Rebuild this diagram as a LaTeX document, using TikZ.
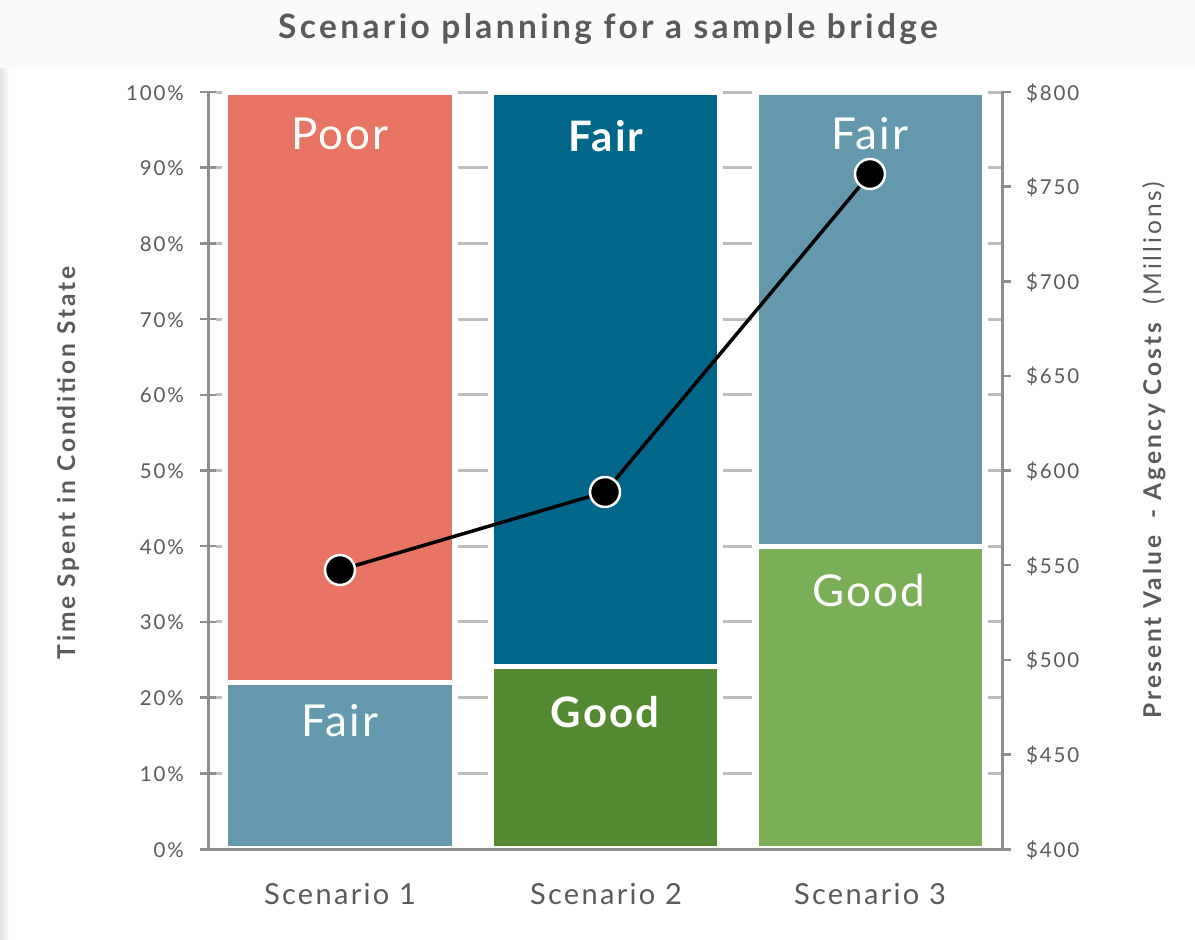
\documentclass[tikz,border=0pt]{standalone}
\usepackage{fontspec}
\setmainfont{Lato}
\definecolor{salmon}{HTML}{E87564}
\definecolor{lteal}{HTML}{6499AD}
\definecolor{dteal}{HTML}{00678A}
\definecolor{dgreen}{HTML}{548A31}
\definecolor{lgreen}{HTML}{7BAF57}
\definecolor{axisgray}{HTML}{8E8E8E}
\definecolor{stubgray}{HTML}{BDBDBD}
\definecolor{txtgray}{HTML}{5A5A5A}
\definecolor{bandgray}{HTML}{FAFAFA}
\tikzset{
  axisline/.style={draw=axisgray, line width=3pt},
  tickline/.style={draw=axisgray, line width=2.5pt},
  stub/.style={draw=stubgray, line width=3pt},
  seg/.style={draw=white, line width=1.5pt},
  ticklab/.style={text=txtgray, font=\fontsize{20.5}{22}\selectfont\addfontfeatures{LetterSpace=9}, inner sep=0pt},
  catlab/.style={text=txtgray, font=\fontsize{29}{31}\selectfont\addfontfeatures{LetterSpace=8}, inner sep=0pt, anchor=base},
  barlab/.style={text=white, font=\fontsize{44}{46}\selectfont\addfontfeatures{LetterSpace=5}, inner sep=0pt, anchor=base},
  barlabb/.style={text=white, font=\bfseries\fontsize{42}{44}\selectfont\addfontfeatures{LetterSpace=5}, inner sep=0pt, anchor=base},
  marker/.style={circle, fill=black, draw=white, line width=2.5pt, minimum size=30pt, inner sep=0pt},
  axtitle/.style={text=txtgray, font=\bfseries\fontsize{24.5}{26}\selectfont\addfontfeatures{LetterSpace=12}, inner sep=0pt, rotate=90, anchor=base},
}
\begin{document}
\begin{tikzpicture}[x=1pt,y=-1pt]
\useasboundingbox (0,0) rectangle (1195,940);
% background
\fill[white] (0,0) rectangle (1195,940);
\fill[bandgray] (0,0) rectangle (1195,68);
\shade[left color=gray!22, right color=white] (0,68) rectangle (9,940);
% title
\node[text=txtgray, font=\bfseries\fontsize{33.5}{35}\selectfont\addfontfeatures{LetterSpace=10}, inner sep=0pt, anchor=base] (title) at (608,38) {Scenario planning for a sample bridge};
% stubs between bars (10% levels)
\foreach \i in {1,...,10}{
  \pgfmathsetmacro{\yy}{849-75.7*\i}
  \draw[stub] (216,\yy) -- (222,\yy);
  \draw[stub] (458,\yy) -- (488,\yy);
  \draw[stub] (723,\yy) -- (752,\yy);
  \draw[stub] (988,\yy) -- (1002,\yy);
  \draw[tickline] (200,\yy) -- (216,\yy);
}
% right axis ticks
\foreach \i in {1,...,8}{
  \pgfmathsetmacro{\yy}{849-94.625*\i}
  \draw[tickline] (1002,\yy) -- (1011,\yy);
}
% bars
\filldraw[seg, fill=salmon] (227,94) rectangle (453,681);
\filldraw[seg, fill=lteal] (227,684) rectangle (453,847);
\filldraw[seg, fill=dteal] (493,94) rectangle (718,665);
\filldraw[seg, fill=dgreen] (493,668) rectangle (718,847);
\filldraw[seg, fill=lteal] (758,94) rectangle (983,545);
\filldraw[seg, fill=lgreen] (758,548) rectangle (983,847);
% axes
\draw[axisline] (208,92) -- (208,849);
\draw[axisline] (1002,92) -- (1002,849);
\draw[axisline] (200,849) -- (1011,849);
% left tick labels
\foreach \p in {0,10,...,100}{
  \pgfmathsetmacro{\yy}{849-7.57*\p+8}
  \node[ticklab, anchor=base east] (l\p) at (184,\yy) {\p\%};
}
% right tick labels
\foreach \v [count=\k from 0] in {400,450,...,800}{
  \pgfmathsetmacro{\yy}{849-94.625*\k+8}
  \node[ticklab, anchor=base west] (r\v) at (1026,\yy) {\$\v};
}
% bar labels
\node[barlab] (poor1) at (340,149) {Poor};
\node[barlab] (fair1) at (340,736) {Fair};
\node[barlabb] (fair2) at (606,151) {Fair};
\node[barlabb] (good2) at (605,727) {Good};
\node[barlab] (fair3) at (870,149) {Fair};
\node[barlab] (good3) at (869,606) {Good};
% category labels
\node[catlab] (s1) at (340,904) {Scenario 1};
\node[catlab] (s2) at (606,904) {Scenario 2};
\node[catlab] (s3) at (870,904) {Scenario 3};
% axis titles
\node[axtitle] (ytitle) at (75,463) {Time Spent in Condition State};
\node[axtitle] (y2title) at (1161,450) {Present Value\ \ - Agency Costs\ \ {\mdseries(Millions)}};
% cost line
\coordinate (p1) at (340,570);
\coordinate (p2) at (605,492);
\coordinate (p3) at (870,174);
\draw[black, line width=3.5pt] (p1) -- (p2) -- (p3);
\node[marker] (m1) at (p1) {};
\node[marker] (m2) at (p2) {};
\node[marker] (m3) at (p3) {};
\end{tikzpicture}
\end{document}
